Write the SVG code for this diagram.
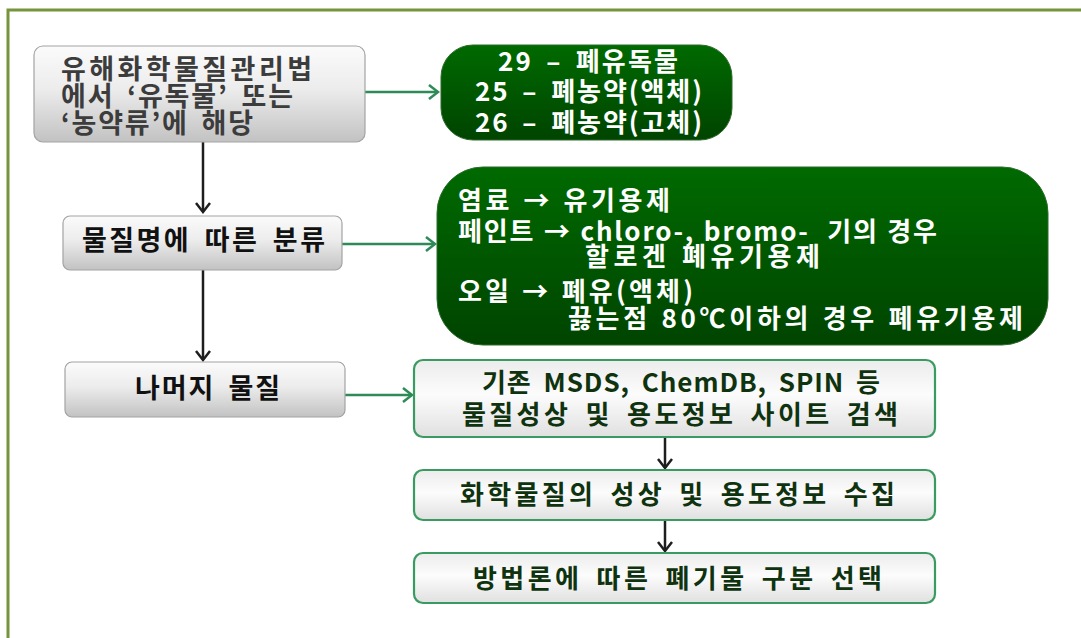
<svg xmlns="http://www.w3.org/2000/svg" width="1081" height="638" viewBox="0 0 1081 638">
<style>
  text { font-family: "Noto Sans CJK KR", "Noto Sans", sans-serif; font-weight: bold; word-spacing: 5px; }
  .gray { fill: url(#gGray); stroke: #a3a3a3; stroke-width: 1.2; }
  .dark { fill: url(#gGreen); stroke: #2d6b2d; stroke-width: 1; }
  .light { fill: url(#gLight); stroke: #3a9a62; stroke-width: 2.2; }
  .tA { font-size: 27px; fill: #3c3c3c; }
  .tB { font-size: 27px; fill: #111111; }
  .tW { font-size: 26px; fill: #ffffff; }
  .tW2 { font-size: 26px; fill: #ffffff; word-spacing: 1px; }
  .tD { font-size: 26px; fill: #10330f; }
  .blk { stroke: #1e1e1e; stroke-width: 2.5; fill: none; marker-end: url(#mBlk); }
  .grn { stroke: #2e8b57; stroke-width: 2.5; fill: none; marker-end: url(#mGrn); }
</style>
<defs>
  <linearGradient id="gGray" x1="0" y1="0" x2="0" y2="1">
    <stop offset="0" stop-color="#fbfbfb"/>
    <stop offset="0.45" stop-color="#ececec"/>
    <stop offset="1" stop-color="#c2c2c2"/>
  </linearGradient>
  <linearGradient id="gGreen" x1="0" y1="0" x2="0" y2="1">
    <stop offset="0" stop-color="#006a00"/>
    <stop offset="1" stop-color="#004400"/>
  </linearGradient>
  <linearGradient id="gLight" x1="0" y1="0" x2="0" y2="1">
    <stop offset="0" stop-color="#ececec"/>
    <stop offset="0.45" stop-color="#fcfcfc"/>
    <stop offset="1" stop-color="#e0e0e0"/>
  </linearGradient>
  <marker id="mBlk" viewBox="-12 -9 14 18" refX="0" refY="0" markerWidth="14" markerHeight="18" markerUnits="userSpaceOnUse" orient="auto">
    <path d="M-9,-7 L0,0 L-9,7" fill="none" stroke="#1e1e1e" stroke-width="2.5" stroke-linejoin="miter"/>
  </marker>
  <marker id="mGrn" viewBox="-12 -9 14 18" refX="0" refY="0" markerWidth="14" markerHeight="18" markerUnits="userSpaceOnUse" orient="auto">
    <path d="M-9,-7 L0,0 L-9,7" fill="none" stroke="#2e8b57" stroke-width="2.5" stroke-linejoin="miter"/>
  </marker>
</defs>

<rect x="0" y="0" width="1081" height="638" fill="#ffffff"/>
<path d="M8,640 V10 H1083" fill="none" stroke="#77933c" stroke-width="3"/>

<g id="connectors">
  <line class="blk" x1="203" y1="142" x2="203" y2="212"/>
  <line class="blk" x1="203" y1="270" x2="203" y2="360"/>
  <line class="grn" x1="365" y1="92" x2="438" y2="92"/>
  <line class="grn" x1="342" y1="244" x2="435" y2="244"/>
  <line class="grn" x1="345" y1="395" x2="412" y2="395"/>
  <line class="blk" x1="665" y1="437" x2="665" y2="468"/>
  <line class="blk" x1="665" y1="520" x2="665" y2="551"/>
</g>

<g id="nodeA">
  <rect class="gray" x="34" y="46" width="331" height="96" rx="9"/>
  <text class="tA" x="61" y="79" textLength="251" lengthAdjust="spacing">유해화학물질관리법</text>
  <text class="tA" x="61" y="106" textLength="232" lengthAdjust="spacing">에서 ‘유독물’ 또는</text>
  <text class="tA" x="61" y="133" textLength="192" lengthAdjust="spacing">‘농약류’에 해당</text>
</g>

<g id="nodeB">
  <rect class="gray" x="63" y="216" width="279" height="54" rx="7"/>
  <text class="tB" x="82" y="250" textLength="243" lengthAdjust="spacing">물질명에 따른 분류</text>
</g>

<g id="nodeC">
  <rect class="gray" x="65" y="362" width="280" height="55" rx="7"/>
  <text class="tB" x="135" y="398" textLength="145" lengthAdjust="spacing">나머지 물질</text>
</g>

<g id="nodeG1">
  <rect class="dark" x="441" y="45" width="291" height="95" rx="32"/>
  <text class="tW" x="498" y="71" textLength="180" lengthAdjust="spacing">29 – 폐유독물</text>
  <text class="tW" x="475" y="101" textLength="227" lengthAdjust="spacing">25 – 폐농약(액체)</text>
  <text class="tW" x="475" y="132" textLength="227" lengthAdjust="spacing">26 – 폐농약(고체)</text>
</g>

<g id="nodeG2">
  <rect class="dark" x="437" y="167" width="611" height="178" rx="46"/>
  <text class="tW2" x="458" y="210" textLength="212" lengthAdjust="spacing">염료 → 유기용제</text>
  <text class="tW2" x="458" y="241" textLength="479" lengthAdjust="spacing" xml:space="preserve">페인트 → chloro-, bromo-  기의 경우</text>
  <text class="tW2" x="585" y="266" textLength="235" lengthAdjust="spacing">할로겐 폐유기용제</text>
  <text class="tW2" x="458" y="301" textLength="235" lengthAdjust="spacing">오일 → 폐유(액체)</text>
  <text class="tW2" x="568" y="328" textLength="455" lengthAdjust="spacing">끓는점 80℃이하의 경우 폐유기용제</text>
</g>

<g id="nodeD">
  <rect class="light" x="414" y="360" width="521" height="77" rx="9"/>
  <text class="tD" x="482" y="392" textLength="398" lengthAdjust="spacing">기존 MSDS, ChemDB, SPIN 등</text>
  <text class="tD" x="462" y="424" textLength="436" lengthAdjust="spacing">물질성상 및 용도정보 사이트 검색</text>
</g>

<g id="nodeE">
  <rect class="light" x="414" y="470" width="521" height="50" rx="9"/>
  <text class="tD" x="460" y="504" textLength="435" lengthAdjust="spacing">화학물질의 성상 및 용도정보 수집</text>
</g>

<g id="nodeF">
  <rect class="light" x="414" y="553" width="521" height="50" rx="9"/>
  <text class="tD" x="473" y="588" textLength="409" lengthAdjust="spacing">방법론에 따른 폐기물 구분 선택</text>
</g>
</svg>
